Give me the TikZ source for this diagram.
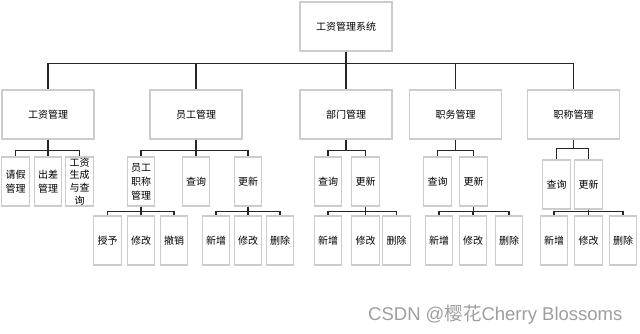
\documentclass[tikz,border=0pt]{standalone}
\usepackage{fontspec}
\setmainfont{Noto Sans CJK SC}
\newfontfamily\wmfont{Liberation Sans}
\newfontfamily\wmcjk{Noto Sans CJK SC}
\usetikzlibrary{positioning}

\begin{document}
\begin{tikzpicture}[x=1pt, y=-1pt,
      box/.style={rectangle, draw=black!20, line width=1.2pt, fill=white,
                  minimum width=92pt, minimum height=49pt, inner sep=0pt,
                  font=\fontsize{10}{12}\selectfont},
      leaf/.style={box, minimum width=27.5pt, align=center,
                   font=\fontsize{10}{14}\selectfont},
      link/.style={draw=black!85, line width=1.2pt},
      wmtext/.style={font=\fontsize{18.5}{20}\selectfont, color=black!38}
    ]
    \useasboundingbox (0,0) rectangle (640,333);

    % Level 1
    \node[box] (sys) at (346,26.5) {工资管理系统};

    % Level 2
    \node[box] (pay) at (48,114.5) {工资管理};
    \node[box] (staff) at (196,114.5) {员工管理};
    \node[box] (dept) at (346,114.5) {部门管理};
    \node[box] (duty) at (455.5,114.5) {职务管理};
    \node[box] (title) at (573.5,114.5) {职称管理};

    \foreach \c in {pay,staff,dept,duty,title}
      \draw[link] (sys.south) -- ++(0,11.7) -| (\c.north);

    % Level 3
    \node[leaf] (leave) at (15.5,181.5) {请假\\管理};
    \node[leaf] (trip) at (48,181.5) {出差\\管理};
    \node[leaf, font=\fontsize{10}{12.6}\selectfont] (gen) at (79.5,181.5) {工资\\生成\\与查\\询};

    \node[leaf] (stitle) at (141,181.5) {员工\\职称\\管理};
    \node[leaf] (squery) at (196,181.5) {查询};
    \node[leaf] (supd) at (248,181.5) {更新};

    \node[leaf] (dquery) at (328,181.5) {查询};
    \node[leaf] (dupd) at (365.5,181.5) {更新};

    \node[leaf] (jquery) at (437.5,181.5) {查询};
    \node[leaf] (jupd) at (473.5,181.5) {更新};

    \node[leaf] (tquery) at (556.5,184.5) {查询};
    \node[leaf] (tupd) at (588.5,184.5) {更新};

    \foreach \c in {leave,trip,gen}
      \draw[link] (pay.south) -- ++(0,11) -| (\c.north);
    \foreach \c in {stitle,squery,supd}
      \draw[link] (staff.south) -- ++(0,11) -| (\c.north);
    \foreach \c in {dquery,dupd}
      \draw[link] (dept.south) -- ++(0,11) -| (\c.north);
    \foreach \c in {jquery,jupd}
      \draw[link] (duty.south) -- ++(0,11) -| (\c.north);
    \foreach \c in {tquery,tupd}
      \draw[link] (title.south) -- ++(0,9) -| (\c.north);

    % Level 4
    \node[leaf] (grant) at (107.5,240.5) {授予};
    \node[leaf] (smod) at (141,240.5) {修改};
    \node[leaf] (revoke) at (174,240.5) {撤销};

    \node[leaf] (sadd) at (216,240.5) {新增};
    \node[leaf] (sedit) at (248,240.5) {修改};
    \node[leaf] (sdel) at (280,240.5) {删除};

    \node[leaf] (dadd) at (328,240.5) {新增};
    \node[leaf] (dedit) at (365.5,240.5) {修改};
    \node[leaf] (ddel) at (396.5,240.5) {删除};

    \node[leaf] (jadd) at (439,240.5) {新增};
    \node[leaf] (jedit) at (473,240.5) {修改};
    \node[leaf] (jdel) at (509,240.5) {删除};

    \node[leaf] (tadd) at (554,240.5) {新增};
    \node[leaf] (tedit) at (588.5,240.5) {修改};
    \node[leaf] (tdel) at (623,240.5) {删除};

    \foreach \c in {grant,smod,revoke}
      \draw[link] (stitle.south) -- ++(0,5) -| (\c.north);
    \foreach \c in {sadd,sedit,sdel}
      \draw[link] (supd.south) -- ++(0,5) -| (\c.north);
    \foreach \c in {dadd,dedit,ddel}
      \draw[link] (dupd.south) -- ++(0,5) -| (\c.north);
    \foreach \c in {jadd,jedit,jdel}
      \draw[link] (jupd.south) -- ++(0,5) -| (\c.north);
    \foreach \c in {tadd,tedit,tdel}
      \draw[link] (tupd.south) -- ++(0,2) -| (\c.north);

    % watermark
    \node[wmtext, anchor=base west, inner sep=0pt] (wm) at (368,320)
      {\wmfont CSDN @{\wmcjk 樱花}Cherry Blossoms};

  \end{tikzpicture}
\end{document}
